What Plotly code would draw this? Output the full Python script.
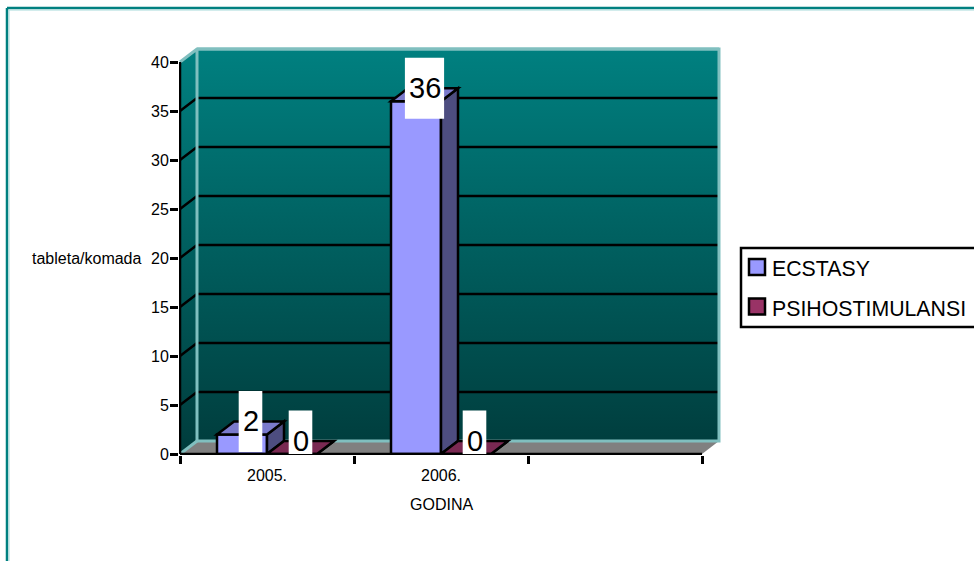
import plotly.graph_objects as go

categories = ["2005.", "2006.", " "]
ecstasy = [2, 36, None]
psihostimulansi = [0, 0, None]
y_ticks = [0, 5, 10, 15, 20, 25, 30, 35, 40]
x_title = "GODINA"
y_title = "tableta/komada"

FONT = "Liberation Sans"
W, H = 974, 561
PX_X, PX_Y = 174.0, 9.8        # pixels per category / per unit
DX, DY = 17 / PX_X, 13 / PX_Y  # 3D depth in data units
BW = 50 / PX_X                 # bar width in categories
XMIN, XMAX = -0.5, 2.5
YMIN, YMAX = y_ticks[0], y_ticks[-1]
ML, MR, MT, MB = 179, 253, 47, 106
xrange = [XMIN - 1 / PX_X, XMAX + DX + 2 / PX_X]
yrange = [YMIN - 1 / PX_Y, YMAX + DY + 2 / PX_Y]
PW, PH = W - ML - MR, H - MT - MB
LW = 2.5


def px(v):
    return (v - ML) / PW


def py(v):
    return (H - MB - v) / PH


def poly(points):
    return "M" + " L".join(f"{a:.5f},{b:.5f}" for a, b in points) + " Z"


fig = go.Figure()
wl, wr, wt, wb = XMIN + DX, XMAX + DX, YMAX + DY, YMIN + DY

# back and side wall with gradient
fig.add_trace(go.Scatter(
    x=[XMIN, wl, wr, wr, wl, XMIN, XMIN], y=[YMIN, wb, wb, wt, wt, YMAX, YMIN],
    mode="lines", line=dict(width=0), fill="toself", showlegend=False, hoverinfo="skip",
    fillgradient=dict(type="vertical", colorscale=[[0, "#003c3c"], [1, "#008080"]]),
))
# floor
fig.add_trace(go.Scatter(
    x=[XMIN, XMAX, wr, wl, XMIN], y=[YMIN, YMIN, wb, wb, YMIN],
    mode="lines", line=dict(width=0), fill="toself", fillcolor="#808080",
    showlegend=False, hoverinfo="skip",
))
# gridlines
gx, gy = [], []
for t in y_ticks[1:-1]:
    gx += [XMIN, wl, wr, None]
    gy += [t, t + DY, t + DY, None]
fig.add_trace(go.Scatter(x=gx, y=gy, mode="lines", line=dict(color="black", width=LW),
                         showlegend=False, hoverinfo="skip"))
# light wall edges
fig.add_trace(go.Scatter(
    x=[XMIN, wl, wr, wr, wl, wl, None, XMIN, wl, None, wl, wr],
    y=[YMAX, wt, wt, wb, wb, wt, None, YMIN, wb, None, wt, wt],
    mode="lines", line=dict(color="#80bfbf", width=3), showlegend=False, hoverinfo="skip",
))

# bars on an overlaid pair of axes so they sit above the walls
series = [("ECSTASY", ecstasy, "#9999ff", "#4d4d80", "#7a7acc"),
          ("PSIHOSTIMULANSI", psihostimulansi, "#993366", "#4d1a33", "#7a2952")]
for name, vals, col, _, _ in series:
    fig.add_trace(go.Bar(x=categories, y=vals, name=name, showlegend=False,
                         xaxis="x2", yaxis="y2", marker=dict(color=col, line=dict(color="black", width=LW))))

shapes = []
for k, (name, vals, col, side, top) in enumerate(series):
    for i, v in enumerate(vals):
        if v is None:
            continue
        x0 = i + (k - 1) * BW
        x1 = x0 + BW
        shapes.append(dict(type="path", xref="x", yref="y", fillcolor=side, line=dict(color="black", width=LW),
                           path=poly([(x1, 0), (x1, v), (x1 + DX, v + DY), (x1 + DX, DY)])))
        shapes.append(dict(type="path", xref="x", yref="y", fillcolor=top, line=dict(color="black", width=LW),
                           path=poly([(x0, v), (x1, v), (x1 + DX, v + DY), (x0 + DX, v + DY)])))

# axis lines
shapes.append(dict(type="line", xref="x", yref="y", x0=XMIN, x1=XMIN, y0=YMIN, y1=YMAX, line=dict(color="black", width=LW)))
shapes.append(dict(type="line", xref="x", yref="y", x0=XMIN, x1=XMAX, y0=YMIN, y1=YMIN, line=dict(color="black", width=LW)))

annotations = []
for k, (name, vals, col, side, top) in enumerate(series):
    for i, v in enumerate(vals):
        if v is None:
            continue
        cx = i + (k - 0.5) * BW + DX / 2
        cy = v + DY
        half_w = (8 + 15.6 * len(str(v))) / 2 / PX_X
        half_h = 30.5 / PX_Y
        shapes.append(dict(type="rect", xref="x", yref="y", x0=cx - half_w, x1=cx + half_w,
                           y0=max(YMIN, cy - half_h), y1=cy + half_h, fillcolor="white", line=dict(width=0)))
        annotations.append(dict(x=cx, y=cy, xref="x", yref="y", text=str(v), showarrow=False,
                                font=dict(family=FONT, size=29, color="black"), xanchor="center", yanchor="middle"))

# outer frame, cropped at the right and the bottom of the picture
for c, w, o in [("#008080", 2.5, 0), ("#a6d9d9", 1, 2)]:
    shapes.append(dict(type="line", xref="paper", yref="paper", x0=px(7 + o), x1=px(W + 5), y0=py(8 + o), y1=py(8 + o), line=dict(color=c, width=w)))
    shapes.append(dict(type="line", xref="paper", yref="paper", x0=px(7 + o), x1=px(7 + o), y0=py(8 + o), y1=py(H + 5), line=dict(color=c, width=w)))

# legend box
shapes.append(dict(type="rect", xref="paper", yref="paper", x0=px(741), x1=px(W + 5), y0=py(327), y1=py(248),
                   fillcolor="white", line=dict(color="black", width=LW)))
for (name, vals, col, side, top), cy, ty in zip(series, [267, 306.5], [268.5, 308.5]):
    shapes.append(dict(type="rect", xref="paper", yref="paper", x0=px(749), x1=px(765), y0=py(cy + 8), y1=py(cy - 8),
                       fillcolor=col, line=dict(color="black", width=LW)))
    annotations.append(dict(x=px(770), y=py(ty), xref="paper", yref="paper", text=name, showarrow=False,
                            font=dict(family=FONT, size=21.3, color="black"), xanchor="left", yanchor="middle"))

annotations.append(dict(x=px(441), y=py(504), xref="paper", yref="paper", text=x_title, showarrow=False,
                        font=dict(family=FONT, size=16, color="black"), xanchor="center", yanchor="middle"))
annotations.append(dict(x=px(86.5), y=py(258), xref="paper", yref="paper", text=y_title, showarrow=False,
                        font=dict(family=FONT, size=16, color="black"), xanchor="center", yanchor="middle"))

fig.update_layout(
    width=W, height=H, autosize=False,
    margin=dict(l=ML, r=MR, t=MT, b=MB, pad=0, autoexpand=False),
    paper_bgcolor="white", plot_bgcolor="white",
    font=dict(family=FONT, color="black"),
    barmode="group", bargap=1 - 2 * BW, bargroupgap=0,
    xaxis=dict(range=xrange, visible=False, fixedrange=True),
    yaxis=dict(range=yrange, visible=False, fixedrange=True),
    xaxis2=dict(overlaying="x", anchor="y2", type="category", categoryorder="array", categoryarray=categories,
                range=xrange, tickson="boundaries", ticks="outside", ticklen=8, tickwidth=LW, tickcolor="black",
                ticklabelstandoff=9,
                showgrid=False, zeroline=False, showline=False, tickfont=dict(family=FONT, size=16, color="black")),
    yaxis2=dict(overlaying="y", anchor="x2", range=yrange, tickmode="array", tickvals=y_ticks,
                ticks="outside", ticklen=8, tickwidth=LW, tickcolor="black", showgrid=False, zeroline=False,
                ticklabelstandoff=-2,
                showline=False, tickfont=dict(family=FONT, size=16, color="black")),
    shapes=shapes, annotations=annotations, showlegend=False,
)

fig.write_html("out.html", config=dict(displayModeBar=False),
               post_script="document.body.style.margin='0';document.documentElement.style.overflow='hidden';")
